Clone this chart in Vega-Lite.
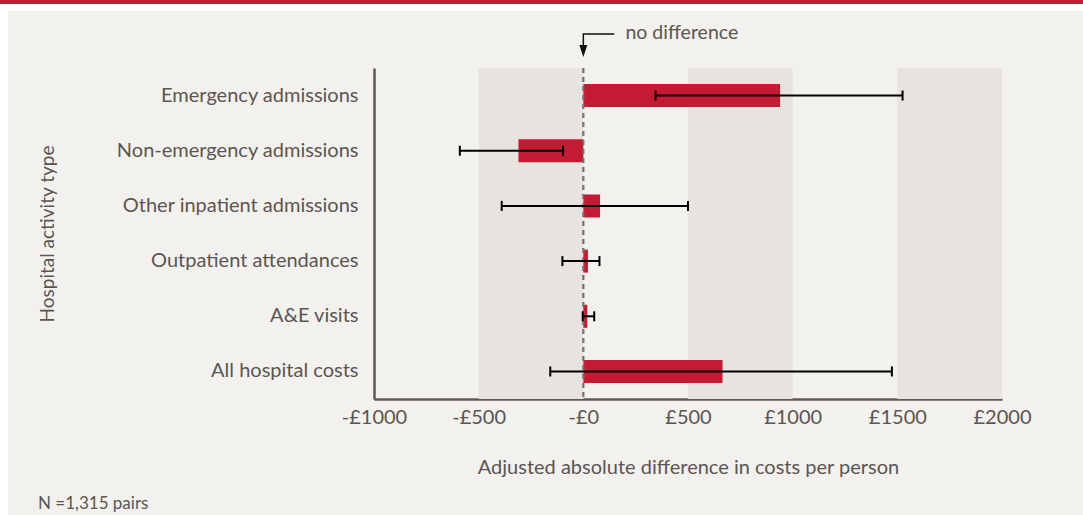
{
  "$schema": "https://vega.github.io/schema/vega-lite/v6.json",
  "background": "#f3f1ed",
  "padding": 0,
  "spacing": 0,
  "config": {"font": "Lato", "view": {"stroke": null}},
  "datasets": {
    "blank": [{"a": 1}],
    "zero": [{"z": 0}],
    "bands": [{"lo": -500, "hi": 0}, {"lo": 500, "hi": 1000}, {"lo": 1500, "hi": 2000}],
    "rows": [
      {"cat": "Emergency admissions", "value": 940, "zero": 0, "lo": 345, "hi": 1525},
      {"cat": "Non-emergency admissions", "value": -310, "zero": 0, "lo": -590, "hi": -97},
      {"cat": "Other inpatient admissions", "value": 80, "zero": 0, "lo": -390, "hi": 500},
      {"cat": "Outpatient attendances", "value": 22, "zero": 0, "lo": -100, "hi": 77},
      {"cat": "A&E visits", "value": 19, "zero": 0, "lo": -3, "hi": 52},
      {"cat": "All hospital costs", "value": 665, "zero": 0, "lo": -158, "hi": 1474}
    ],
    "elbow": [{"i": 1, "x": 148, "y": 23}, {"i": 2, "x": 0, "y": 23}, {"i": 3, "x": 0, "y": 36}],
    "head": [{"x": 0, "y": 40}],
    "note": [{"x": 201, "y": 22, "label": "no difference"}]
  },
  "vconcat": [
    {
      "width": 1083, "height": 4,
      "view": {"fill": "#c31c35", "stroke": null},
      "data": {"name": "blank"},
      "mark": {"type": "point", "opacity": 0, "size": 0},
      "encoding": {}
    },
    {
      "width": 1083, "height": 7,
      "view": {"fill": "#ffffff", "stroke": null},
      "data": {"name": "blank"},
      "mark": {"type": "point", "opacity": 0, "size": 0},
      "encoding": {}
    },
    {
      "spacing": 30,
      "hconcat": [
        {
          "width": 8, "height": 504,
          "view": {"fill": "#ffffff", "stroke": null},
          "data": {"name": "blank"},
          "mark": {"type": "point", "opacity": 0, "size": 0},
          "encoding": {}
        },
        {
          "spacing": 0,
          "vconcat": [
            {
              "width": 628, "height": 55,
              "view": {"stroke": null},
              "layer": [
                {
                  "data": {"name": "elbow"},
                  "mark": {"type": "line", "color": "#111111", "strokeWidth": 1.5},
                  "encoding": {
                    "x": {"field": "x", "type": "quantitative", "scale": {"domain": [-1000, 2000], "nice": false}, "axis": null},
                    "y": {"field": "y", "type": "quantitative", "scale": {"domain": [0, 55], "nice": false, "reverse": true}, "axis": null},
                    "order": {"field": "i", "type": "quantitative"}
                  }
                },
                {
                  "data": {"name": "head"},
                  "mark": {"type": "point", "shape": "M-0.667,-1L0.667,-1L0,1Z", "filled": true, "size": 144, "color": "#111111", "opacity": 1},
                  "encoding": {
                    "x": {"field": "x", "type": "quantitative"},
                    "y": {"field": "y", "type": "quantitative"}
                  }
                },
                {
                  "data": {"name": "note"},
                  "mark": {"type": "text", "align": "left", "baseline": "middle", "fontSize": 19.5, "color": "#5b5552"},
                  "encoding": {
                    "x": {"field": "x", "type": "quantitative"},
                    "y": {"field": "y", "type": "quantitative"},
                    "text": {"field": "label", "type": "nominal"}
                  }
                }
              ]
            },
            {
              "width": 628, "height": 331,
              "view": {"stroke": null},
              "title": {"text": "N =1,315 pairs", "orient": "bottom", "anchor": "start", "frame": "bounds", "fontSize": 17, "fontWeight": "normal", "color": "#5b5552", "offset": 19},
              "layer": [
                {
                  "data": {"name": "bands"},
                  "mark": {"type": "rect", "color": "#e7e3de"},
                  "encoding": {
                    "x": {"field": "lo", "type": "quantitative", "scale": {"domain": [-1000, 2000], "nice": false},
                      "axis": {
                        "title": "Adjusted absolute difference in costs per person",
                        "values": [-1000, -500, 0, 500, 1000, 1500, 2000],
                        "labelExpr": "datum.value < 0 ? '-£' + abs(datum.value) : (datum.value == 0 ? '-£0' : '£' + datum.value)",
                        "ticks": false, "grid": false,
                        "labelFlush": false, "labelOverlap": false, "labelLimit": 300,
                        "domainColor": "#5f5854", "domainWidth": 2.5,
                        "labelFontSize": 20, "labelColor": "#5b5552", "labelPadding": 8,
                        "titleFontSize": 20, "titleFontWeight": "normal", "titleColor": "#5b5552", "titlePadding": 30
                      }},
                    "x2": {"field": "hi"}
                  }
                },
                {
                  "data": {"name": "rows"},
                  "mark": {"type": "bar", "color": "#c21b33"},
                  "encoding": {
                    "y": {"field": "cat", "type": "nominal", "sort": null,
                      "scale": {"paddingInner": 0.583, "paddingOuter": 0.29},
                      "axis": {
                        "title": "Hospital activity type",
                        "ticks": false, "grid": false,
                        "labelLimit": 400, "labelOverlap": false,
                        "domainColor": "#5f5854", "domainWidth": 2.5,
                        "labelFontSize": 20, "labelColor": "#5b5552", "labelPadding": 16,
                        "titleFontSize": 19, "titleFontWeight": "normal", "titleColor": "#5b5552", "titlePadding": 117
                      }},
                    "x": {"field": "zero", "type": "quantitative"},
                    "x2": {"field": "value"}
                  }
                },
                {
                  "data": {"name": "zero"},
                  "mark": {"type": "rule", "color": "#737070", "strokeWidth": 2.2, "strokeDash": [5, 4]},
                  "encoding": {"x": {"field": "z", "type": "quantitative"}}
                },
                {
                  "data": {"name": "rows"},
                  "mark": {"type": "rule", "color": "#000000", "strokeWidth": 2},
                  "encoding": {
                    "y": {"field": "cat", "type": "nominal", "sort": null},
                    "x": {"field": "lo", "type": "quantitative"},
                    "x2": {"field": "hi"}
                  }
                },
                {
                  "data": {"name": "rows"},
                  "mark": {"type": "tick", "color": "#000000", "thickness": 2, "size": 10, "orient": "vertical", "opacity": 1},
                  "encoding": {
                    "y": {"field": "cat", "type": "nominal", "sort": null},
                    "x": {"field": "lo", "type": "quantitative"}
                  }
                },
                {
                  "data": {"name": "rows"},
                  "mark": {"type": "tick", "color": "#000000", "thickness": 2, "size": 10, "orient": "vertical", "opacity": 1},
                  "encoding": {
                    "y": {"field": "cat", "type": "nominal", "sort": null},
                    "x": {"field": "hi", "type": "quantitative"}
                  }
                }
              ]
            }
          ]
        }
      ]
    }
  ]
}
